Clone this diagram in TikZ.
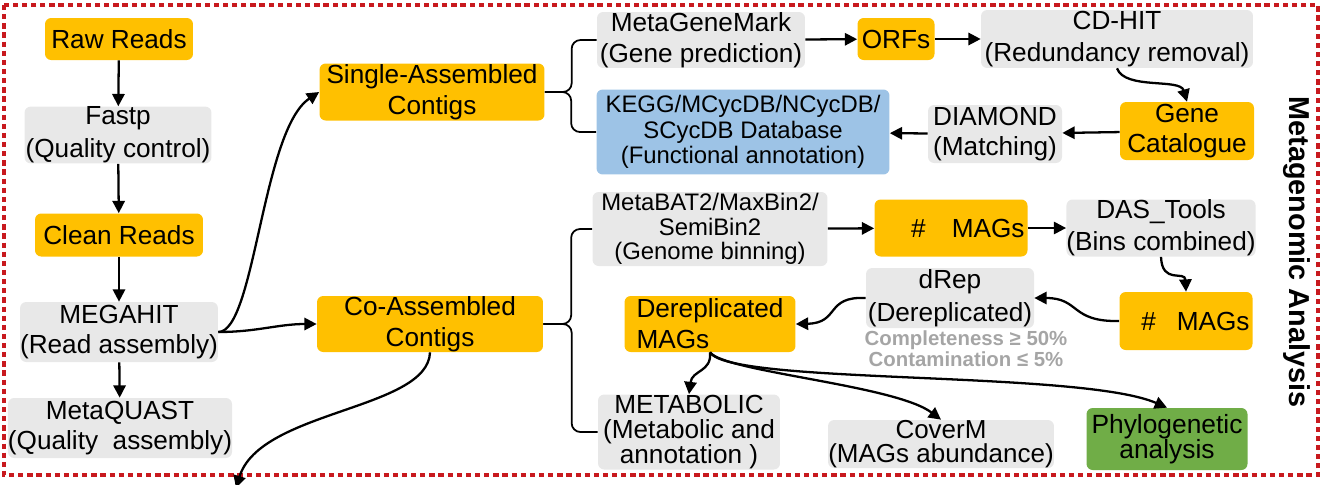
\documentclass[tikz,border=0pt]{standalone}
\usepackage{fontspec}
\setmainfont{Liberation Sans}
\usetikzlibrary{arrows.meta}

\definecolor{boxorange}{RGB}{255,192,0}
\definecolor{boxgrey}{RGB}{232,232,232}
\definecolor{boxblue}{RGB}{157,195,230}
\definecolor{boxgreen}{RGB}{112,173,71}
\definecolor{framered}{RGB}{200,25,30}
\definecolor{critgrey}{RGB}{165,165,165}

\begin{document}
\begin{tikzpicture}[x=0.02cm,y=0.02cm]
\tikzstyle{every node}=[inner sep=0pt, align=center, rounded corners=3.5pt, font=\fontsize{14.9}{17.5}\selectfont];
\tikzstyle{tool}=[fill=boxgrey];
\tikzstyle{result}=[fill=boxorange];
\tikzstyle{arr}=[line width=1.3pt, -{Triangle[length=7pt,width=7pt]}];
\tikzstyle{brace}=[line width=1pt, rounded corners=5pt];

\useasboundingbox (0,0) rectangle (1327,-484);
\draw[framered, line width=2.3pt, dash pattern=on 3pt off 2.2pt] (4,-5) rectangle (1318,-475);

% reads and assembly
\draw (119,-39) node[result, minimum width=2.96cm, minimum height=0.84cm] (raw) {Raw Reads};
\draw (118,-135) node[tool, minimum width=3.74cm, minimum height=1.10cm, font=\fontsize{14.9}{19}\selectfont] (fastp) {Fastp\\(Quality control)};
\draw (119,-235) node[result, minimum width=3.36cm, minimum height=0.86cm] (clean) {Clean Reads};
\draw (119,-332) node[tool, minimum width=3.9cm, minimum height=1.2cm] (megahit) {MEGAHIT\\(Read assembly)};
\draw (120,-428) node[tool, minimum width=4.4cm, minimum height=1.2cm] (quast) {MetaQUAST\\(Quality\ \ assembly)};

\draw (432,-92) node[result, minimum width=4.5cm, minimum height=1.14cm] (single) {Single-Assembled\\Contigs};
\draw (430,-324) node[result, minimum width=4.52cm, minimum height=1.12cm] (co) {Co-Assembled\\Contigs};

% gene catalogue
\draw (701,-40) node[tool, minimum width=4.16cm, minimum height=1.12cm] (mgm) {MetaGeneMark\\(Gene prediction)};
\draw (896,-39) node[result, minimum width=1.54cm, minimum height=0.84cm] (orfs) {ORFs};
\draw (1117,-39) node[tool, minimum width=5.44cm, minimum height=1.16cm, font=\fontsize{14.9}{18}\selectfont] (cdhit) {CD-HIT\\(Redundancy removal)};
\draw (1187,-131) node[result, minimum width=2.68cm, minimum height=1.16cm] (genecat) {Gene\\Catalogue};
\draw (995,-134) node[tool, minimum width=2.68cm, minimum height=1.16cm] (diamond) {DIAMOND\\(Matching)};
\draw (743,-132) node[fill=boxblue, minimum width=5.86cm, minimum height=1.7cm, font=\fontsize{13.6}{14.5}\selectfont] (kegg) {KEGG/MCycDB/NCycDB/\\SCycDB Database\\(Functional annotation)};

% binning
\draw (710,-229) node[tool, minimum width=4.7cm, minimum height=1.48cm, font=\fontsize{13.6}{13.8}\selectfont] (metabat) {MetaBAT2/MaxBin2/\\SemiBin2\\(Genome binning)};
\draw (951,-228) node[result, minimum width=3.06cm, minimum height=1.14cm] (mags1) {\makebox[2.94cm][r]{\#\hspace{1em}MAGs}};
\draw (1161,-228) node[tool, minimum width=3.74cm, minimum height=1.14cm, font=\fontsize{14.9}{18}\selectfont] (das) {DAS\_Tools\\(Bins combined)};
\draw (1186,-321) node[result, minimum width=2.66cm, minimum height=1.16cm] (mags2) {\makebox[2.54cm][r]{\#\hspace{0.8em}MAGs}};
\draw (950,-298) node[tool, minimum width=3.36cm, minimum height=1.2cm, font=\fontsize{14.9}{19}\selectfont] (drep) {dRep\\(Dereplicated)};
\draw (966,-349) node[text=critgrey, font=\bfseries\fontsize{11.6}{10}\selectfont] (crit) {Completeness ≥ 50\%\\Contamination ≤ 5\%};
\draw (710,-324) node[result, align=left, minimum width=3.42cm, minimum height=1.12cm] (derep) {Dereplicated\\MAGs};
\draw (689,-432) node[tool, minimum width=3.64cm, minimum height=1.5cm, font=\fontsize{14.9}{14.2}\selectfont] (metabolic) {METABOLIC\\(Metabolic and\\annotation\ )};
\draw (941,-444) node[tool, minimum width=4.52cm, minimum height=0.96cm, font=\fontsize{14.8}{13.8}\selectfont] (coverm) {CoverM\\(MAGs abundance)};
\draw (1167,-439) node[fill=boxgreen, minimum width=3.22cm, minimum height=1.24cm, font=\fontsize{15}{14.4}\selectfont] (phylo) {Phylogenetic\\analysis};

\draw (1297,-252) node[rotate=-90, font=\bfseries\fontsize{16.4}{18}\selectfont] (title) {Metagenomic Analysis};

\coordinate (down) at (236,-488);

% arrows
\draw[arr] (raw) -- (fastp);
\draw[arr] (fastp) -- (clean);
\draw[arr] (clean) -- (megahit);
\draw[arr] (megahit) -- (quast);
\draw[arr] (megahit.east) .. controls (255,-332) and (262,-130) .. (single.west);
\draw[arr] (megahit.east) to[out=0, in=180] (co.west);
\draw[arr] (co.south) .. controls (428,-410) and (260,-410) .. (down);

\draw[brace] (mgm.west) -- ++(-25,0) |- (single.east);
\draw[brace] (kegg.west) -- ++(-25,0) |- (single.east);
\draw[brace] (metabat.west) -- ++(-21,0) |- (co.east);
\draw[brace] (metabolic.west) -- ++(-26,0) |- (co.east);

\draw[arr] (mgm) -- (orfs);
\draw[arr] (orfs) -- (cdhit);
\draw[arr] (cdhit.south) .. controls (1125,-90) and (1180,-78) .. (genecat.north);
\draw[arr] (genecat) -- (diamond);
\draw[arr] (diamond) -- (kegg);

\draw[arr] (metabat) -- (mags1);
\draw[arr] (mags1) -- (das);
\draw[arr] (das.south) .. controls (1162,-285) and (1185,-270) .. (mags2.north);
\draw[arr] (mags2.west) .. controls (1070,-322) and (1080,-298) .. (drep.east);
\draw[arr] (drep.west) .. controls (825,-296) and (840,-323) .. (derep.east);
\draw[arr] (derep.south) .. controls (712,-372) and (692,-370) .. (metabolic.north);
\draw[arr] (derep.south) .. controls (725,-372) and (895,-385) .. (coverm.north);
\draw[arr] (derep.south) .. controls (730,-385) and (1080,-370) .. (phylo.north);

\end{tikzpicture}
\end{document}
